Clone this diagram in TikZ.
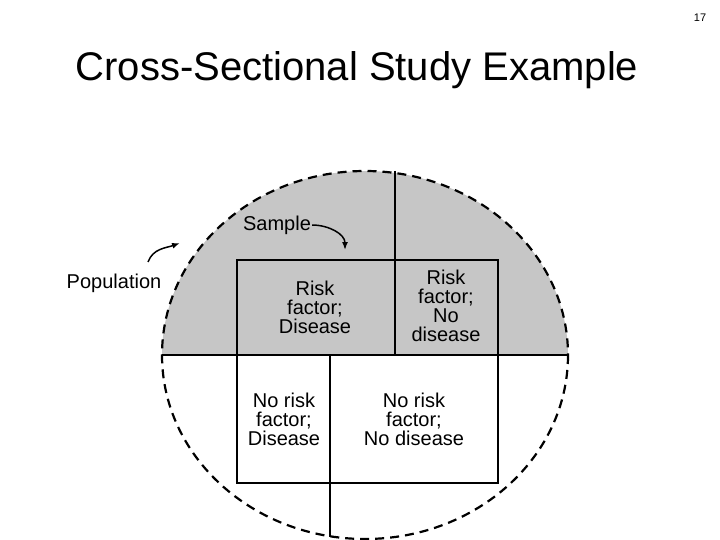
\documentclass[tikz,border=0pt]{standalone}
\usepackage{fontspec}
\setmainfont{Liberation Sans}
\usetikzlibrary{arrows.meta}
\begin{document}
\begin{tikzpicture}[x=1pt,y=-1pt,
  lbl/.style={align=center,font=\fontsize{20}{19}\selectfont,inner sep=0pt},
  solid line/.style={line width=2.2pt},
  cell/.style={inner sep=0pt}]
\useasboundingbox (0,0) rectangle (720,540);
\fill[gray!45] (162,355) arc[start angle=180,end angle=0,x radius=203,y radius=-184] -- cycle;
\draw[dashed,line width=2.2pt,dash pattern=on 9pt off 6pt] (365,355) ellipse [x radius=203,y radius=184];
\coordinate (hl) at (162,355); \coordinate (hr) at (568,355);
\coordinate (vt) at (395,171); \coordinate (vb) at (330,537);
\coordinate (vm) at (395,355); \coordinate (vm2) at (330,355);
\draw[solid line] (hl) -- (hr);
\draw[solid line] (vt) -- (vm);
\draw[solid line] (vm2) -- (vb);
\node[cell,draw,line width=2.2pt,minimum width=261pt,minimum height=223pt,anchor=north west] (box) at (236,259) {};
\node[lbl] (c1) at (315,307) {Risk\\factor;\\Disease};
\node[lbl] (c2) at (446,306) {Risk\\factor;\\No\\disease};
\node[lbl] (c3) at (284,419) {No risk\\factor;\\Disease};
\node[lbl] (c4) at (414,419) {No risk\\factor;\\No disease};
\node[font=\fontsize{20}{20}\selectfont,inner sep=1pt] (samp) at (277,225) {Sample};
\node[font=\fontsize{20}{20}\selectfont,inner sep=1pt] (pop) at (114,283) {Population};
\coordinate (sa) at (345,250); \coordinate (pa) at (180,243);
\draw[-{Latex[length=8pt]},line width=1.5pt] (samp.east) to[out=0,in=90] (sa);
\draw[-{Latex[length=8pt]},line width=1.5pt] (148,262) to[out=70,in=200] (pa);
\node[font=\fontsize{40}{40}\selectfont] (title) at (357,70) {Cross-Sectional Study Example};
\node[font=\fontsize{11}{11}\selectfont] (num) at (700,18) {17};
\end{tikzpicture}
\end{document}
